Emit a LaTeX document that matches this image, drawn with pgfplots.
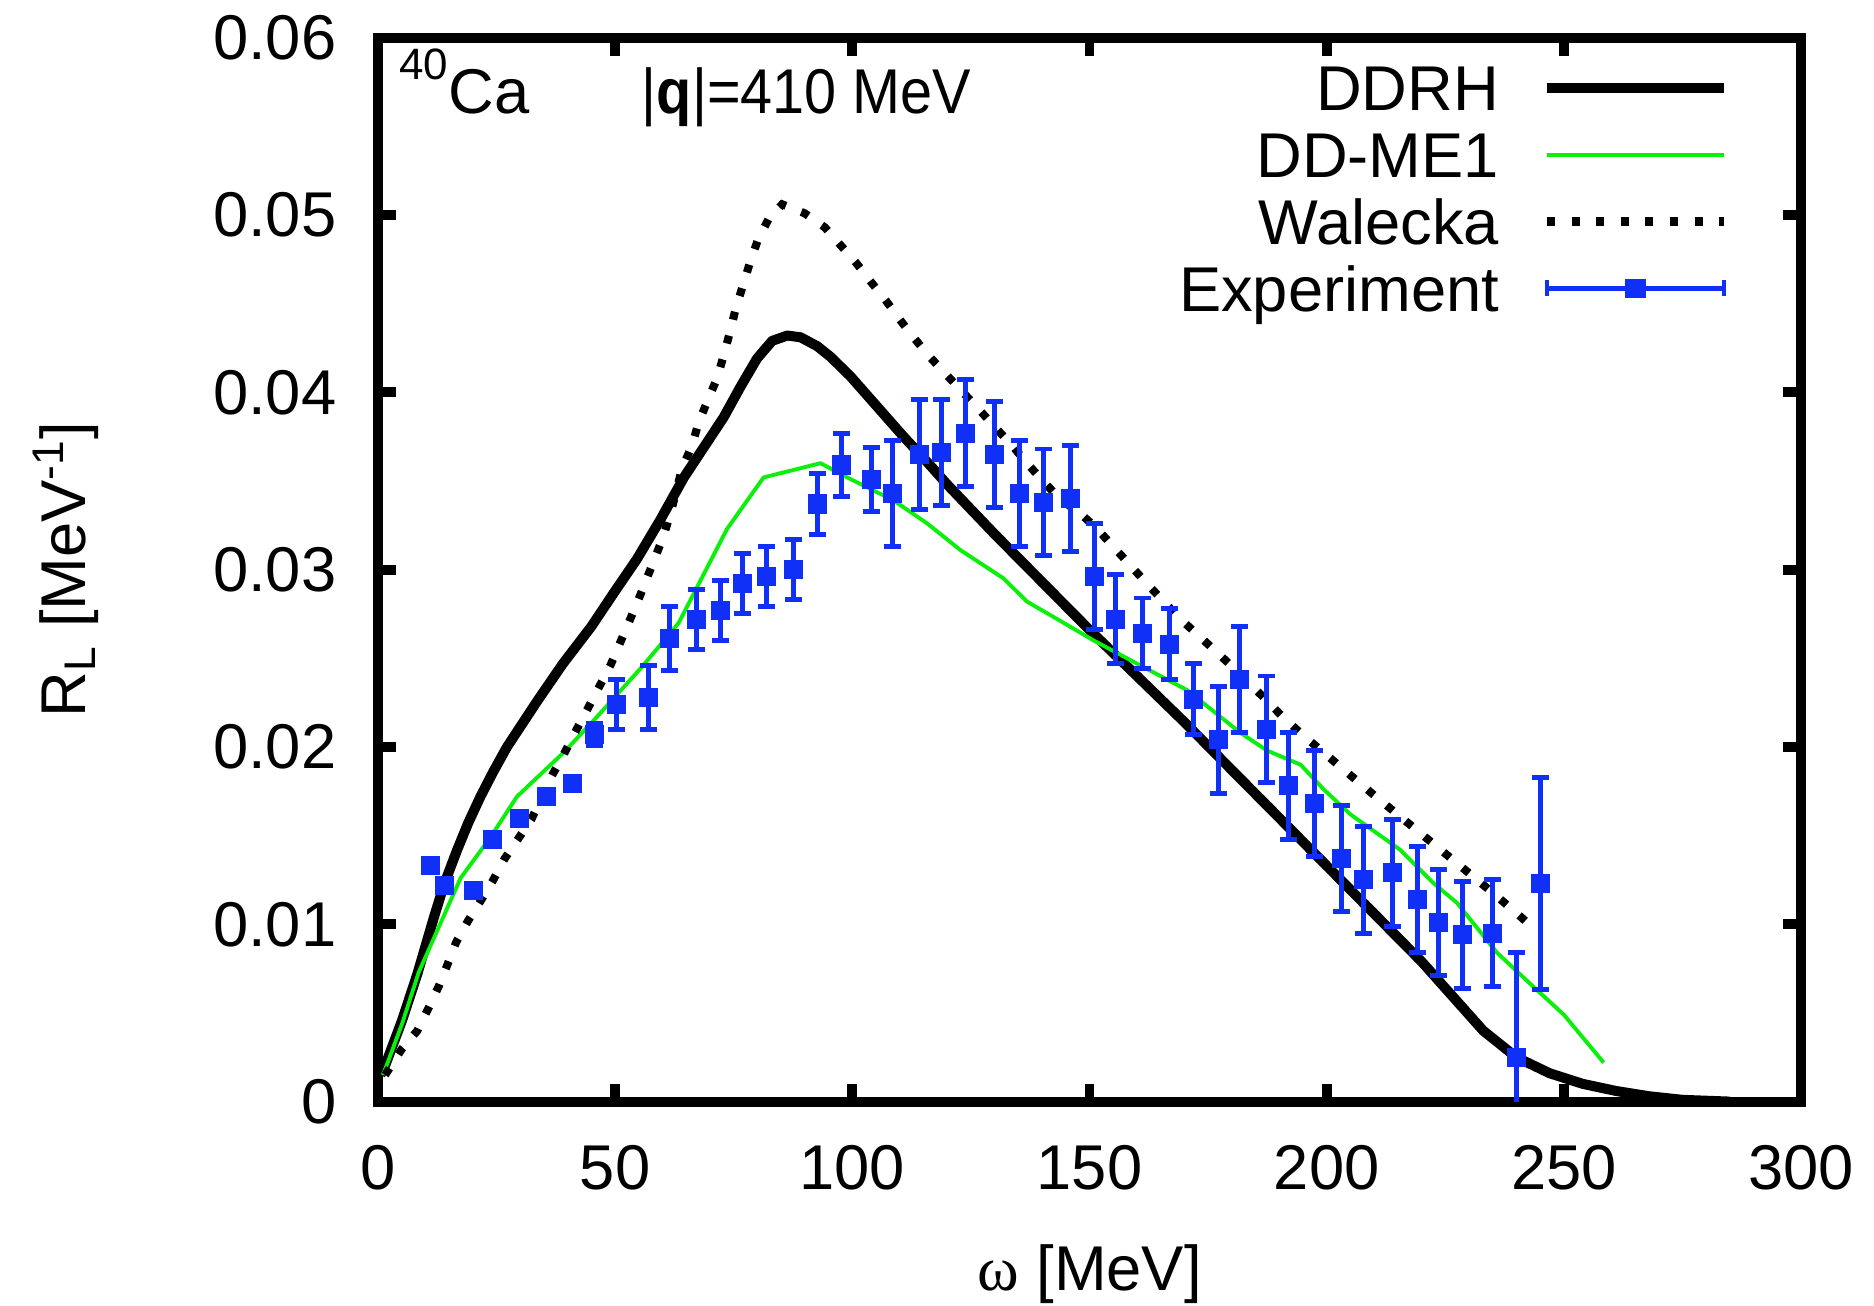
\documentclass[border=0pt]{standalone}
\usepackage{fontspec}
\setmainfont{Liberation Sans}
\newfontfamily\omegafont{Liberation Serif}
\usepackage{graphicx}
\usepackage{pgfplots}
\pgfplotsset{compat=1.18}
\newcommand{\fsz}{\fontsize{18}{21.6}\selectfont}
\definecolor{expblue}{RGB}{16,48,248}
\definecolor{megreen}{RGB}{10,240,10}
\begin{document}
\begin{tikzpicture}
\begin{axis}[
  at={(0,0)}, anchor=south west,
  scale only axis, width=14.23cm, height=10.64cm,
  xmin=0, xmax=300, ymin=0, ymax=0.06,
  xtick={0,50,100,150,200,250,300},
  xticklabels={0,50,100,150,200,250,300},
  ytick={0,0.01,0.02,0.03,0.04,0.05,0.06},
  yticklabels={0,0.01,0.02,0.03,0.04,0.05,0.06},
  scaled x ticks=false, scaled y ticks=false,
  tick align=inside, major tick length=0.18cm,
  axis line style={line width=2.8pt},
  every tick/.style={black, line width=2.8pt},
  ticklabel style={font=\fsz},
  xticklabel style={inner sep=0pt, anchor=north, yshift=-0.43cm},
  yticklabel style={inner sep=0pt, anchor=east, xshift=-0.41cm},
  xlabel={{\omegafont ω} [MeV]},
  ylabel={R\textsubscript{L} [MeV\textsuperscript{-1}]},
  xlabel style={at={(axis description cs:0.5,-0.178)}, anchor=base, inner sep=0pt, font=\fsz},
  ylabel style={at={(axis description cs:-0.2052,0.5)}, anchor=base, inner sep=0pt, font=\fsz},
  legend plot pos=right,
  legend cell align=right,
  legend style={at={(1,1)}, anchor=north east, xshift=-0.72cm, yshift=-0.271cm,
    draw=none, fill=none, inner sep=0pt, outer sep=0pt,
    row sep=0.209cm, column sep=0.43cm, font=\fsz,
    nodes={inner sep=0pt, text height=0.46cm, text depth=0pt}},
]
\addplot[black, line width=2.85pt, line join=round,
  legend image code/.code={\draw[black, line width=2.85pt] (0cm,0cm) -- (1.77cm,0cm);}]
table[x=w, y=r] {
w r
0.5 0.0015
1.6 0.0021
5.1 0.0046
8.3 0.0072
11.8 0.0104
14.0 0.0123
16.7 0.0142
19.0 0.0157
21.6 0.0172
24.3 0.0186
27.2 0.0200
33.6 0.0226
39.0 0.0247
45.0 0.0268
50.0 0.0288
54.6 0.0306
59.5 0.0328
64.5 0.0352
68.7 0.0369
72.9 0.0386
76.4 0.0403
79.9 0.0419
83.1 0.0429
86.3 0.0432
89.1 0.0431
92.6 0.0426
95.4 0.0420
99.6 0.0409
105.2 0.0392
110.8 0.0375
116 0.0360
120 0.0348
130 0.0320
140 0.0293
150 0.0266
160 0.0240
170 0.0214
180 0.0187
190 0.0160
200 0.0133
210 0.0106
220 0.0079
226 0.0061
233 0.0040
240 0.0025
247 0.0016
254 0.0010
261 0.0006
268 0.0003
275 0.0001
285 0.0
};
\addlegendentry{DDRH}
\addplot[megreen, line width=1.1pt, line join=round,
  legend image code/.code={\draw[megreen, line width=1.1pt] (0cm,0cm) -- (1.77cm,0cm);}]
table[x=w, y=r] {
w r
1.0 0.0015
1.9 0.0021
5.1 0.0044
8.6 0.0073
17.4 0.0126
23.7 0.0149
29.3 0.0172
39.2 0.0197
45.5 0.0215
55.6 0.0245
63.4 0.0270
73.6 0.0323
81.3 0.0352
93.3 0.0360
98.9 0.0352
108.7 0.0339
115.8 0.0326
122.8 0.0311
131.9 0.0295
136.8 0.0282
143.9 0.0271
150.9 0.0260
159.3 0.0248
170.6 0.0232
176.2 0.0220
181.8 0.0208
187.4 0.0198
194.5 0.0190
199.4 0.0176
205.0 0.0162
215.5 0.0142
222.6 0.0123
227.5 0.0112
235.9 0.0084
244.3 0.0063
250.0 0.0049
258.4 0.0022
};
\addlegendentry{DD-ME1}
\addplot[black, line width=2.3pt, line cap=butt, dash pattern=on 2.3pt off 4.7pt,
  legend image code/.code={\draw[black, line width=2.3pt, dash pattern=on 2.3pt off 4.7pt] (0cm,0cm) -- (1.77cm,0cm);}]
table[x=w, y=r] {
w r
1.5 0.0015
5.1 0.0030
8.3 0.0040
10.7 0.0053
12.8 0.0065
14.6 0.0077
16.5 0.0090
19.0 0.0102
21.6 0.0113
24.3 0.0125
26.7 0.0137
29.5 0.0148
32.3 0.0159
36.7 0.0184
39.2 0.0196
41.5 0.0208
43.9 0.0220
49.0 0.0246
54.6 0.0281
58.3 0.0306
60.2 0.0319
61.7 0.0332
64.1 0.0357
66.2 0.0370
67.6 0.0383
69.6 0.0396
71.5 0.0408
72.9 0.0421
74.2 0.0434
75.4 0.0447
76.9 0.0460
78.4 0.0473
80.1 0.0486
82.4 0.0498
85.2 0.0506
89.9 0.0501
94.2 0.0493
97.5 0.0483
100.8 0.0473
104.0 0.0462
107.0 0.0452
110.0 0.0441
113.2 0.0430
116.3 0.0420
119.8 0.0410
123.3 0.0400
126.8 0.0390
130.2 0.0380
133.7 0.0370
136.8 0.0360
140.2 0.0350
143.7 0.0340
147.9 0.0332
151.6 0.0323
155.0 0.0313
158.4 0.0303
161.8 0.0293
165.3 0.0283
168.8 0.0273
172.5 0.0264
176.2 0.0255
179.8 0.0246
183.6 0.0236
187.1 0.0227
190.7 0.0217
194.4 0.0208
209.9 0.0173
225.4 0.0139
233.1 0.0122
237.1 0.0113
241.0 0.0104
244.3 0.0096
};
\addlegendentry{Walecka}
\addplot[expblue, only marks, mark=square*, mark size=0.09cm,
  mark options={solid, fill=expblue, line width=0.3pt},
  error bars/.cd, y dir=both, y explicit,
  error mark=-,
  error bar style={line width=1.4pt, expblue},
  error mark options={rotate=90, expblue, line width=1.4pt, mark size=0.085cm},
  /pgfplots/legend image code/.code={
    \draw[expblue, line width=1.4pt] (0cm,0cm) -- (1.77cm,0cm);
    \draw[expblue, line width=1.4pt] (0cm,-0.08cm) -- (0cm,0.08cm);
    \draw[expblue, line width=1.4pt] (1.77cm,-0.08cm) -- (1.77cm,0.08cm);
    \fill[expblue] (0.79cm,-0.09cm) rectangle (0.98cm,0.09cm);}]
table[x=w, y=r, y error=e] {
w r e
11.1 0.01333 0.0002
14.1 0.01216 0.0002
20.2 0.01192 0.0002
24.2 0.01479 0.0002
29.9 0.01598 0.0002
35.5 0.01722 0.0002
41.1 0.01795 0.0002
45.7 0.0207 0.0006
50.3 0.0224 0.0014
57.0 0.0228 0.0018
61.5 0.0261 0.0018
67.1 0.0272 0.0017
72.2 0.0277 0.0017
76.8 0.0292 0.0017
81.9 0.0296 0.0017
87.6 0.0300 0.0017
92.7 0.0337 0.0017
97.8 0.0359 0.0018
104.1 0.0351 0.0018
108.5 0.0343 0.0030
114.2 0.0365 0.0031
118.8 0.0366 0.0030
123.9 0.0377 0.0030
130.0 0.0365 0.0030
135.3 0.0343 0.0030
140.3 0.0338 0.0030
146.0 0.0340 0.0030
151.0 0.0296 0.0030
155.5 0.0272 0.0025
161.2 0.0264 0.0020
166.8 0.0258 0.0020
172.0 0.0227 0.0020
177.2 0.0204 0.0030
181.7 0.0238 0.0030
187.4 0.0210 0.0030
192.0 0.0178 0.0030
197.5 0.0168 0.0030
203.2 0.0137 0.0030
207.8 0.0125 0.0030
213.9 0.0129 0.0030
219.1 0.0114 0.0030
223.6 0.0101 0.0030
228.7 0.0094 0.0030
235.0 0.0095 0.0030
240.0 0.0025 0.0059
245.0 0.0123 0.0060
};
\addlegendentry{Experiment}
\node[anchor=base west, inner sep=0pt, font=\fsz] at (axis cs:4.4,0.0557)
  {\raisebox{0.55em}{\fontsize{12.5}{14}\selectfont 40}Ca};
\node[anchor=base west, inner sep=0pt, font=\fsz] at (axis cs:55.5,0.0557)
  {\scalebox{0.91}[1]{|\textbf{q}|=410 MeV}};
\end{axis}
\pgfresetboundingbox
\path[use as bounding box] (-3.78cm,-2.034cm) rectangle (14.96cm,11.016cm);
\end{tikzpicture}
\end{document}
